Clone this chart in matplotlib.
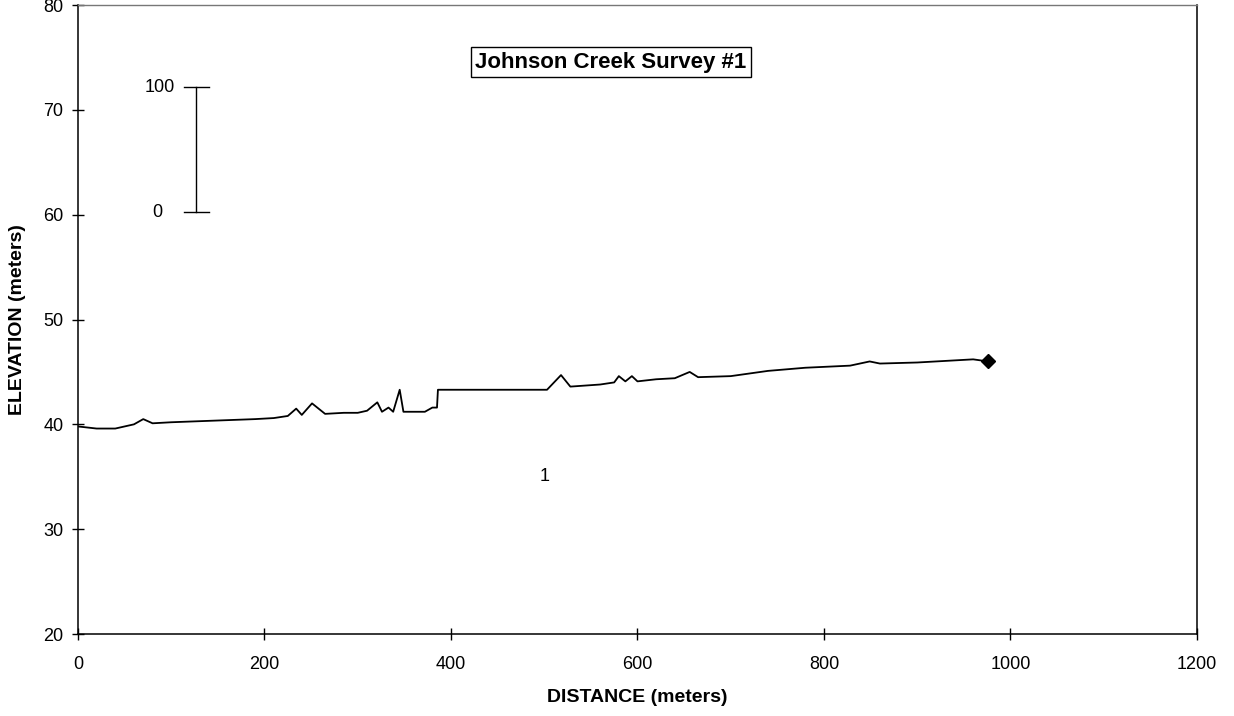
import matplotlib.pyplot as plt

plt.rcParams['font.family'] = ['Liberation Sans', 'DejaVu Sans']

# ---------------------survey profile-----------------------
distance = [0, 10, 20, 40, 50, 60, 70, 80, 100, 130, 160, 190, 210, 225, 234, 240,
            251, 265, 285, 300, 310, 321, 326, 333, 338, 345, 349, 372, 380, 385,
            386, 420, 460, 503, 518, 528, 560, 575, 580, 587, 594, 600, 620, 640,
            656, 665, 700, 740, 780, 828, 849, 860, 900, 940, 960, 976]
elevation = [39.8, 39.7, 39.6, 39.6, 39.8, 40.0, 40.5, 40.1, 40.2, 40.3, 40.4, 40.5, 40.6, 40.8, 41.5, 40.9,
             42.0, 41.0, 41.1, 41.1, 41.3, 42.1, 41.2, 41.6, 41.2, 43.3, 41.2, 41.2, 41.6, 41.6,
             43.3, 43.3, 43.3, 43.3, 44.7, 43.6, 43.8, 44.0, 44.6, 44.1, 44.6, 44.1, 44.3, 44.4,
             45.0, 44.5, 44.6, 45.1, 45.4, 45.6, 46.0, 45.8, 45.9, 46.1, 46.2, 46.0]

x_ticks = [0, 200, 400, 600, 800, 1000, 1200]
y_ticks = [20, 30, 40, 50, 60, 70, 80]
scale_labels = ["100", "0"]

fig = plt.figure(figsize=(12.34, 7.16), dpi=100)
ax = fig.add_axes([0.0632, 0.1145, 0.9068, 0.8785])

ax.plot(distance, elevation, color='black', linewidth=1.3)
ax.plot(distance[-1], elevation[-1], marker='D', color='black', markersize=7)

ax.set_xlim(0, 1200)
ax.set_ylim(20, 80)
ax.set_xticks(x_ticks)
ax.set_yticks(y_ticks)
ax.tick_params(direction='inout', length=9, width=1, labelsize=13)
ax.tick_params(axis='x', pad=11)
ax.tick_params(axis='y', pad=6)
for side in ['left', 'bottom', 'right']:
    ax.spines[side].set_linewidth(1.1)
ax.spines['top'].set_color('#777777')
ax.spines['top'].set_linewidth(1.0)

ax.set_xlabel("DISTANCE (meters)", fontsize=14, fontweight='bold', labelpad=12)
ax.set_ylabel("ELEVATION (meters)", fontsize=14, fontweight='bold', labelpad=12)

# scale bar
bx, btop, bbot, hw = 0.1055, 0.8696, 0.6709, 0.0112
ax.plot([bx, bx], [bbot, btop], color='black', linewidth=1, transform=ax.transAxes)
ax.plot([bx - hw, bx + hw], [btop, btop], color='black', linewidth=1, transform=ax.transAxes)
ax.plot([bx - hw, bx + hw], [bbot, bbot], color='black', linewidth=1, transform=ax.transAxes)
ax.text(0.087, btop, scale_labels[0], transform=ax.transAxes, ha='right', va='center', fontsize=13)
ax.text(0.075, bbot, scale_labels[1], transform=ax.transAxes, ha='right', va='center', fontsize=13)

ax.text(0.476, 0.909, "Johnson Creek Survey #1", transform=ax.transAxes, ha='center', va='center',
        fontsize=16, fontweight='bold',
        bbox=dict(boxstyle='square,pad=0.2', facecolor='white', edgecolor='black', linewidth=1))
ax.text(0.417, 0.251, "1", transform=ax.transAxes, ha='center', va='center', fontsize=13)

fig.savefig("out.png", dpi=100)
